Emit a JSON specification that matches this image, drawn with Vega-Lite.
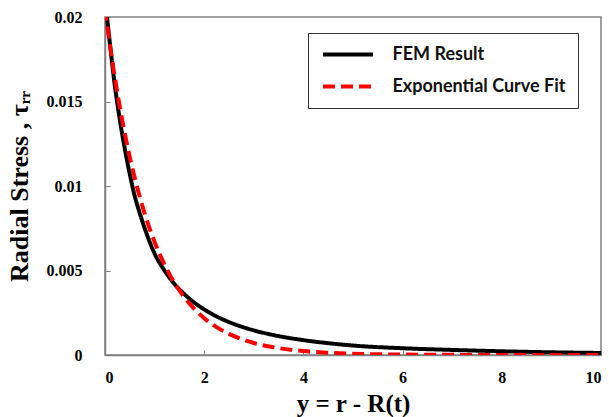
{
  "$schema": "https://vega.github.io/schema/vega-lite/v6.json",
  "autosize": "none",
  "width": 496,
  "height": 338,
  "padding": {"left": 105, "top": 17, "right": 8, "bottom": 62},
  "background": "white",
  "config": {
    "view": {"stroke": "#808080", "strokeWidth": 1.5},
    "axis": {
      "labelFont": "Liberation Serif", "labelFontWeight": "bold", "labelFontSize": 16, "labelColor": "black",
      "titleFont": "Liberation Serif", "titleFontWeight": "bold", "titleColor": "black",
      "domainColor": "#808080", "domainWidth": 1.5, "tickColor": "#808080", "tickSize": -5, "tickWidth": 1, "grid": false
    },
    "legend": {
      "title": null, "orient": "none", "legendX": 203, "legendY": 16,
      "strokeColor": "#333333", "fillColor": "white", "padding": 12.5,
      "labelFont": "Lato", "labelFontWeight": "bold", "labelFontSize": 18, "labelColor": "#111111",
      "symbolType": "M-5,0H5", "symbolSize": 100, "symbolStrokeWidth": 4, "symbolOffset": 18.5, "labelOffset": 35.5, "rowPadding": 14, "labelLimit": 300
    }
  },
  "datasets": {
    "fem": [
      {"x": 0, "y": 0.0211}, {"x": 0.1, "y": 0.0184}, {"x": 0.2, "y": 0.0159}, {"x": 0.3, "y": 0.0139},
      {"x": 0.4, "y": 0.0122}, {"x": 0.5, "y": 0.0107}, {"x": 0.6, "y": 0.0094}, {"x": 0.7, "y": 0.0084},
      {"x": 0.8, "y": 0.0075}, {"x": 0.9, "y": 0.0067}, {"x": 1.0, "y": 0.0060}, {"x": 1.2, "y": 0.0050},
      {"x": 1.4, "y": 0.0042}, {"x": 1.6, "y": 0.0036}, {"x": 1.8, "y": 0.0031}, {"x": 2.0, "y": 0.0027},
      {"x": 2.25, "y": 0.00228}, {"x": 2.5, "y": 0.00195}, {"x": 2.75, "y": 0.00168}, {"x": 3.0, "y": 0.00146},
      {"x": 3.5, "y": 0.00112}, {"x": 4.0, "y": 0.00088}, {"x": 4.5, "y": 0.0007}, {"x": 5.0, "y": 0.00056},
      {"x": 6.0, "y": 0.0004}, {"x": 7.0, "y": 0.0003}, {"x": 8.0, "y": 0.00022}, {"x": 9.0, "y": 0.00016},
      {"x": 10.0, "y": 0.00012}
    ],
    "fit": [
      {"x": 0, "y": 0.0205}, {"x": 0.1, "y": 0.01833}, {"x": 0.2, "y": 0.01639}, {"x": 0.3, "y": 0.01465},
      {"x": 0.4, "y": 0.0131}, {"x": 0.5, "y": 0.01171}, {"x": 0.6, "y": 0.01047}, {"x": 0.7, "y": 0.00936},
      {"x": 0.8, "y": 0.00837}, {"x": 0.9, "y": 0.00748}, {"x": 1.0, "y": 0.00669}, {"x": 1.2, "y": 0.00535},
      {"x": 1.4, "y": 0.00427}, {"x": 1.6, "y": 0.00342}, {"x": 1.8, "y": 0.00273}, {"x": 2.0, "y": 0.00218},
      {"x": 2.25, "y": 0.00165}, {"x": 2.5, "y": 0.00125}, {"x": 3.0, "y": 0.00071}, {"x": 3.5, "y": 0.00041},
      {"x": 4.0, "y": 0.00023}, {"x": 4.5, "y": 0.000133}, {"x": 5.0, "y": 0.000076}, {"x": 6.0, "y": 0.000025},
      {"x": 7.0, "y": 0.000008}, {"x": 8.0, "y": 0.000003}, {"x": 9.0, "y": 0.000001}, {"x": 10.0, "y": 0.0000003}
    ]
  },
  "encoding": {
    "x": {"field": "x", "type": "quantitative", "scale": {"domain": [0, 10], "nice": false},
      "axis": {"values": [0, 2, 4, 6, 8, 10], "title": "y = r - R(t)", "titleFontSize": 25, "labelPadding": 19, "titlePadding": 6}},
    "y": {"field": "y", "type": "quantitative", "scale": {"domain": [0, 0.02], "nice": false},
      "axis": {"values": [0, 0.005, 0.01, 0.015, 0.02], "format": "~g", "title": "Radial Stress , τᵣᵣ", "titleFontSize": 26, "labelPadding": 28, "titlePadding": 14}},
    "color": {"field": "series", "type": "nominal",
      "scale": {"domain": ["FEM Result", "Exponential Curve Fit"], "range": ["black", "#ff0000"]}},
    "strokeDash": {"field": "series", "type": "nominal",
      "scale": {"domain": ["FEM Result", "Exponential Curve Fit"], "range": [[1, 0], [12, 6]]}}
  },
  "layer": [
    {"data": {"name": "fem"}, "transform": [{"calculate": "'FEM Result'", "as": "series"}],
     "mark": {"type": "line", "strokeWidth": 4, "clip": true, "interpolate": "monotone"}},
    {"data": {"name": "fit"}, "transform": [{"calculate": "'Exponential Curve Fit'", "as": "series"}],
     "mark": {"type": "line", "strokeWidth": 4, "clip": true, "interpolate": "monotone"}}
  ]
}
